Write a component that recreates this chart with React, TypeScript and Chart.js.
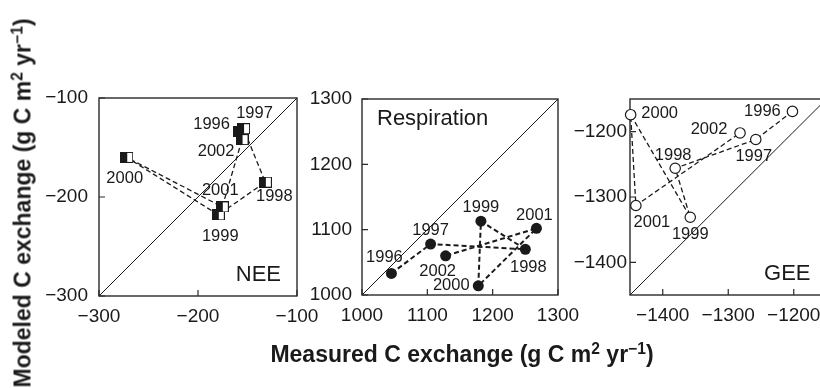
import React, { useEffect, useRef } from 'react';
import { Chart, registerables } from 'chart.js';

Chart.register(...registerables);

// ---------------- data ----------------
const YEARS = ['1996', '1997', '1998', '1999', '2000', '2001', '2002'];

const NEE_MEASURED = [-158, -154, -132, -179.5, -272, -175.5, -155.5];
const NEE_MODELED = [-134, -131, -185, -218, -160, -210, -142];

const RESP_MEASURED = [1045, 1105, 1250, 1182, 1178, 1267, 1128];
const RESP_MODELED = [1033, 1078, 1070, 1113, 1014, 1102, 1060];

const GEE_MEASURED = [-1202, -1258, -1381, -1358, -1449, -1441, -1282];
const GEE_MODELED = [-1169, -1212, -1256, -1331, -1174, -1313, -1202];

const NEE_RANGE = [-300, -100];
const RESP_RANGE = [1000, 1300];
const GEE_RANGE = [-1450, -1150];

const NEE_TICKS = [-300, -200, -100];
const RESP_TICKS = [1000, 1100, 1200, 1300];
const GEE_TICKS = [-1400, -1300, -1200];

const PANEL_TITLES = ['NEE', 'Respiration', 'GEE'];
const X_TITLE = 'Measured C exchange';
const Y_TITLE = 'Modeled C exchange';

// ---------------- label placement (style, not data) ----------------
const NEE_LABEL_OFFSETS = [[-28, -7], [11, -15], [9, 14], [2, 22], [-2, 21], [-2, -16], [-26, 12]];
const RESP_LABEL_OFFSETS = [[-7, -16], [0, -14], [3, 18], [0, -14], [-27, 0], [-2, -13], [-8, 16]];
const GEE_LABEL_OFFSETS = [[-30, 0], [-2, 17], [-2, -13], [0, 17], [29, -1], [16, 17], [-31, -4]];

const FONT = '"Liberation Sans", Arial, Helvetica, sans-serif';
const INK = '#1a1a1a';
const H = 388;

function halfSquare(): HTMLCanvasElement {
  const c = document.createElement('canvas');
  c.width = 13;
  c.height = 11;
  const g = c.getContext('2d')!;
  g.fillStyle = '#fff';
  g.fillRect(6, 0.5, 6.5, 10);
  g.strokeStyle = INK;
  g.lineWidth = 1;
  g.strokeRect(6.5, 0.5, 6, 10);
  g.fillStyle = INK;
  g.fillRect(0, 0, 7, 11);
  return c;
}

const fmt = (v: number) => (v < 0 ? '\u2212' + Math.abs(v) : String(v));

type Panel = {
  title: string;
  measured: number[];
  modeled: number[];
  range: number[];
  ticks: number[];
  offsets: number[][];
  canvasLeft: number;
  canvasWidth: number;
  plotLeft: number;
  plotTop: number;
  plotRight: number;
  plotBottom: number;
  yPad: number;
  lineWidth: number;
  marker: 'half' | 'filled' | 'open';
  titleMode: 'br' | 'tl';
};

const PANELS: Panel[] = [
  {
    title: PANEL_TITLES[0], measured: NEE_MEASURED, modeled: NEE_MODELED, range: NEE_RANGE, ticks: NEE_TICKS,
    offsets: NEE_LABEL_OFFSETS, canvasLeft: 0, canvasWidth: 332, plotLeft: 99, plotTop: 98, plotRight: 297,
    plotBottom: 296, yPad: 11, lineWidth: 1.3, marker: 'half', titleMode: 'br',
  },
  {
    title: PANEL_TITLES[1], measured: RESP_MEASURED, modeled: RESP_MODELED, range: RESP_RANGE, ticks: RESP_TICKS,
    offsets: RESP_LABEL_OFFSETS, canvasLeft: 298, canvasWidth: 292, plotLeft: 362, plotTop: 99, plotRight: 558,
    plotBottom: 295, yPad: 10, lineWidth: 2, marker: 'filled', titleMode: 'tl',
  },
  {
    title: PANEL_TITLES[2], measured: GEE_MEASURED, modeled: GEE_MODELED, range: GEE_RANGE, ticks: GEE_TICKS,
    offsets: GEE_LABEL_OFFSETS, canvasLeft: 560, canvasWidth: 300, plotLeft: 630, plotTop: 99, plotRight: 826.5,
    plotBottom: 295, yPad: 3, lineWidth: 1.3, marker: 'open', titleMode: 'br',
  },
];

function makeChart(canvas: HTMLCanvasElement, p: Panel) {
  const pts = p.measured.map((x, i) => ({ x, y: p.modeled[i] }));
  const diag = [{ x: p.range[0], y: p.range[0] }, { x: p.range[1], y: p.range[1] }];

  let pointStyle: any = 'circle';
  let radius = 5.5;
  let bg = INK;
  let bw = 0;
  if (p.marker === 'half') { pointStyle = halfSquare(); radius = 6; }
  if (p.marker === 'open') { radius = 5.2; bg = '#fff'; bw = 1.2; }

  const framePlugin = {
    id: 'frame' + p.title,
    beforeDatasetsDraw(chart: any) {
      const { ctx, chartArea: a, scales } = chart;
      ctx.save();
      ctx.strokeStyle = '#2a2a2a';
      ctx.lineWidth = 1.4;
      ctx.strokeRect(a.left, a.top, a.right - a.left, a.bottom - a.top);
      ctx.lineWidth = 1.2;
      ctx.beginPath();
      p.ticks.forEach((v) => {
        const px = scales.x.getPixelForValue(v);
        ctx.moveTo(px, a.bottom);
        ctx.lineTo(px, a.bottom - 6);
        const py = scales.y.getPixelForValue(v);
        ctx.moveTo(a.left, py);
        ctx.lineTo(a.left + 6, py);
      });
      ctx.stroke();
      ctx.restore();
    },
    afterDatasetsDraw(chart: any) {
      const { ctx, chartArea: a } = chart;
      const meta = chart.getDatasetMeta(1);
      ctx.save();
      ctx.fillStyle = INK;
      ctx.textAlign = 'center';
      ctx.textBaseline = 'middle';
      ctx.font = `16.5px ${FONT}`;
      meta.data.forEach((el: any, i: number) => {
        const o = p.offsets[i];
        ctx.fillText(YEARS[i], el.x + o[0], el.y + o[1]);
      });
      ctx.font = `22px ${FONT}`;
      if (p.titleMode === 'br') {
        ctx.textAlign = 'right';
        ctx.fillText(p.title, a.right - 16, a.bottom - 21);
      } else {
        ctx.textAlign = 'left';
        ctx.fillText(p.title, a.left + 15, a.top + 20);
      }
      ctx.restore();
    },
  };

  const tickFont = { family: FONT, size: 19 };

  return new Chart(canvas, {
    type: 'scatter',
    data: {
      datasets: [
        {
          data: diag, showLine: true, borderColor: INK, borderWidth: 1, pointRadius: 0,
        } as any,
        {
          data: pts, showLine: true, borderColor: INK, borderWidth: p.lineWidth, borderDash: [5, 3],
          pointStyle, pointRadius: radius, pointBackgroundColor: bg, pointBorderColor: INK,
          pointBorderWidth: bw, clip: false,
        } as any,
      ],
    },
    options: {
      responsive: false,
      animation: false,
      devicePixelRatio: 1,
      events: [],
      layout: { padding: { top: p.plotTop, right: p.canvasLeft + p.canvasWidth - p.plotRight, bottom: 0, left: 0 } },
      plugins: { legend: { display: false }, tooltip: { enabled: false } },
      scales: {
        x: {
          type: 'linear', min: p.range[0], max: p.range[1],
          grid: { display: false, drawTicks: false }, border: { display: false },
          ticks: { font: tickFont, color: INK, padding: 9, callback: (v: any) => fmt(Number(v)), maxRotation: 0 },
          afterBuildTicks: (s: any) => { s.ticks = p.ticks.map((v) => ({ value: v })); },
          afterFit: (s: any) => { s.height = H - p.plotBottom; },
        },
        y: {
          type: 'linear', min: p.range[0], max: p.range[1],
          grid: { display: false, drawTicks: false }, border: { display: false },
          ticks: { font: tickFont, color: INK, padding: p.yPad, callback: (v: any) => fmt(Number(v)) },
          afterBuildTicks: (s: any) => { s.ticks = p.ticks.map((v) => ({ value: v })); },
          afterFit: (s: any) => { s.width = p.plotLeft - p.canvasLeft; },
        },
      },
    } as any,
    plugins: [framePlugin],
  });
}

export default function App() {
  const refs = [useRef<HTMLCanvasElement>(null), useRef<HTMLCanvasElement>(null), useRef<HTMLCanvasElement>(null)];

  useEffect(() => {
    const charts = PANELS.map((p, i) => makeChart(refs[i].current!, p));
    return () => charts.forEach((c) => c.destroy());
  }, []);

  const titleStyle: React.CSSProperties = {
    position: 'absolute',
    whiteSpace: 'nowrap',
    fontFamily: FONT,
    fontWeight: 'bold',
    fontSize: 23,
    color: INK,
    lineHeight: 1,
  };
  const sup: React.CSSProperties = { fontSize: '0.68em', verticalAlign: '0.5em', lineHeight: 0 };

  return (
    <div style={{ position: 'fixed', left: 0, top: 0, width: 820, height: H, overflow: 'hidden', background: '#fff' }}>
      {PANELS.map((p, i) => (
        <canvas
          key={p.title}
          ref={refs[i]}
          width={p.canvasWidth}
          height={H}
          style={{ position: 'absolute', left: p.canvasLeft, top: 0, width: p.canvasWidth, height: H }}
        />
      ))}
      <div style={{ ...titleStyle, left: 462, top: 354, transform: 'translate(-50%, -50%)' }}>
        {X_TITLE} (g C m<span style={sup}>2</span> yr<span style={sup}>{'\u2212'}1</span>)
      </div>
      <div style={{ ...titleStyle, left: 23, top: 203, transform: 'translate(-50%, -50%) rotate(-90deg)' }}>
        {Y_TITLE} (g C m<span style={sup}>2</span> yr<span style={sup}>{'\u2212'}1</span>)
      </div>
    </div>
  );
}
